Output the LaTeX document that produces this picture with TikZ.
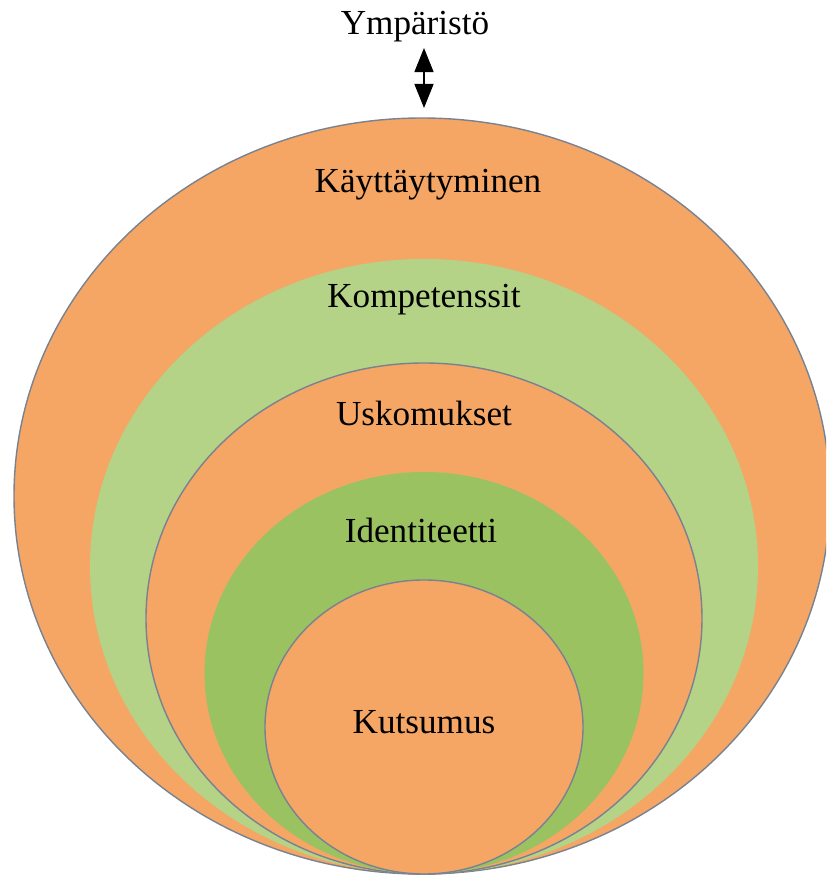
\documentclass[tikz,border=0pt]{standalone}
\usepackage{fontspec}
\setmainfont{Liberation Serif}
\usetikzlibrary{arrows.meta,positioning}
\definecolor{ringorange}{RGB}{245,166,100}
\definecolor{ringlight}{RGB}{180,211,135}
\definecolor{ringdark}{RGB}{155,194,97}
\definecolor{rimgrey}{RGB}{120,130,145}

\begin{document}
\begin{tikzpicture}[x=0.01cm, y=0.01cm,
  rim/.style={draw=rimgrey, line width=0.4pt},
  label/.style={font=\fontsize{10}{12}\selectfont, inner sep=1pt},
  twoway/.style={{Triangle[length=2.4mm,width=1.9mm]}-{Triangle[length=2.4mm,width=1.9mm]}, line width=0.4pt}]
\useasboundingbox (0,0) rectangle (826,875);

\begin{scope}
\clip (0,0) rectangle (826,875);
\filldraw[rim, fill=ringorange](422,379) ellipse [x radius=408, y radius=378];
\fill[ringlight](424,308.5) ellipse [x radius=334, y radius=307.5];
\filldraw[rim, fill=ringorange](424,256.5) ellipse [x radius=278, y radius=255.5];
\fill[ringdark](424,202) ellipse [x radius=219.5, y radius=201];
\filldraw[rim, fill=ringorange](424,148) ellipse [x radius=159, y radius=147];
\end{scope}

\node[label](environment) at (415,848){Ympäristö};
\node[label](behaviour) at (428,690){Käyttäytyminen};
\node[label](competences) at (424,575){Kompetenssit};
\node[label](beliefs) at (424,462){Uskomukset};
\node[label](identity) at (421,345){Identiteetti};
\node[label](mission) at (424,153){Kutsumus};

\coordinate (armtop) at (424,827);
\coordinate (outertop) at (424,757);
\draw[twoway, shorten >=1mm](armtop) -- (outertop);

\end{tikzpicture}
\end{document}
